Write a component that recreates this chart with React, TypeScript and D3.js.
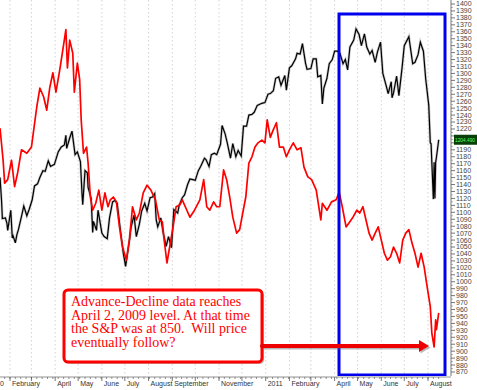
import React from "react";
import * as d3 from "d3";

// S&P 500 closes (black)
const spData: [string, number][] = [
  ["2010-01-19", 1150], ["2010-01-21", 1116], ["2010-01-22", 1091], ["2010-01-26", 1092], ["2010-01-28", 1084],
  ["2010-01-29", 1074], ["2010-02-02", 1103], ["2010-02-04", 1063], ["2010-02-05", 1066], ["2010-02-08", 1056],
  ["2010-02-10", 1068], ["2010-02-12", 1075], ["2010-02-16", 1094], ["2010-02-19", 1109], ["2010-02-23", 1095],
  ["2010-02-26", 1104], ["2010-03-02", 1118], ["2010-03-05", 1138], ["2010-03-09", 1141], ["2010-03-12", 1150],
  ["2010-03-16", 1160], ["2010-03-19", 1159], ["2010-03-23", 1174], ["2010-03-26", 1166], ["2010-03-31", 1169],
  ["2010-04-05", 1187], ["2010-04-09", 1194], ["2010-04-13", 1197], ["2010-04-15", 1211], ["2010-04-16", 1192],
  ["2010-04-20", 1207], ["2010-04-23", 1217], ["2010-04-27", 1183], ["2010-04-30", 1187], ["2010-05-04", 1173],
  ["2010-05-06", 1128], ["2010-05-07", 1111], ["2010-05-10", 1160], ["2010-05-13", 1157], ["2010-05-14", 1136],
  ["2010-05-18", 1120], ["2010-05-20", 1071], ["2010-05-21", 1087], ["2010-05-25", 1074], ["2010-05-27", 1103],
  ["2010-06-01", 1070], ["2010-06-04", 1065], ["2010-06-08", 1062], ["2010-06-11", 1092], ["2010-06-15", 1115],
  ["2010-06-18", 1117], ["2010-06-21", 1113], ["2010-06-25", 1076], ["2010-06-29", 1041], ["2010-07-02", 1022],
  ["2010-07-07", 1060], ["2010-07-09", 1078], ["2010-07-13", 1096], ["2010-07-16", 1065], ["2010-07-20", 1083],
  ["2010-07-23", 1102], ["2010-07-27", 1113], ["2010-07-30", 1102], ["2010-08-03", 1121], ["2010-08-06", 1122],
  ["2010-08-09", 1127], ["2010-08-11", 1089], ["2010-08-13", 1079], ["2010-08-17", 1092], ["2010-08-20", 1071],
  ["2010-08-24", 1051], ["2010-08-27", 1065], ["2010-08-31", 1049], ["2010-09-03", 1104], ["2010-09-08", 1099],
  ["2010-09-10", 1110], ["2010-09-14", 1121], ["2010-09-17", 1125], ["2010-09-21", 1140], ["2010-09-24", 1148],
  ["2010-09-28", 1147], ["2010-10-01", 1146], ["2010-10-05", 1160], ["2010-10-08", 1166], ["2010-10-13", 1178],
  ["2010-10-15", 1176], ["2010-10-19", 1166], ["2010-10-22", 1183], ["2010-10-26", 1185], ["2010-10-29", 1183],
  ["2010-11-03", 1198], ["2010-11-05", 1225], ["2010-11-09", 1213], ["2010-11-12", 1199], ["2010-11-16", 1178],
  ["2010-11-19", 1199], ["2010-11-23", 1180], ["2010-11-26", 1189], ["2010-11-30", 1181], ["2010-12-03", 1224],
  ["2010-12-07", 1224], ["2010-12-10", 1240], ["2010-12-14", 1241], ["2010-12-17", 1244], ["2010-12-21", 1254],
  ["2010-12-27", 1257], ["2010-12-31", 1258], ["2011-01-04", 1270], ["2011-01-07", 1271], ["2011-01-11", 1275],
  ["2011-01-14", 1293], ["2011-01-18", 1295], ["2011-01-21", 1283], ["2011-01-26", 1297], ["2011-01-28", 1276],
  ["2011-02-01", 1308], ["2011-02-04", 1311], ["2011-02-09", 1321], ["2011-02-11", 1329], ["2011-02-15", 1328],
  ["2011-02-18", 1343], ["2011-02-22", 1315], ["2011-02-24", 1306], ["2011-03-01", 1307], ["2011-03-04", 1321],
  ["2011-03-08", 1321], ["2011-03-10", 1295], ["2011-03-14", 1297], ["2011-03-16", 1256], ["2011-03-18", 1279],
  ["2011-03-22", 1293], ["2011-03-25", 1314], ["2011-03-29", 1320], ["2011-04-01", 1332], ["2011-04-05", 1332],
  ["2011-04-08", 1329], ["2011-04-12", 1314], ["2011-04-15", 1320], ["2011-04-18", 1305], ["2011-04-21", 1338],
  ["2011-04-26", 1348], ["2011-04-29", 1364], ["2011-05-03", 1356], ["2011-05-06", 1340], ["2011-05-10", 1357],
  ["2011-05-13", 1338], ["2011-05-17", 1328], ["2011-05-20", 1333], ["2011-05-24", 1316], ["2011-05-27", 1331],
  ["2011-05-31", 1345], ["2011-06-03", 1300], ["2011-06-07", 1284], ["2011-06-10", 1271], ["2011-06-14", 1288],
  ["2011-06-15", 1265], ["2011-06-17", 1272], ["2011-06-21", 1296], ["2011-06-24", 1268], ["2011-06-28", 1307],
  ["2011-07-01", 1340], ["2011-07-07", 1353], ["2011-07-12", 1314], ["2011-07-15", 1316], ["2011-07-19", 1327],
  ["2011-07-22", 1345], ["2011-07-26", 1332], ["2011-07-29", 1292], ["2011-08-02", 1254], ["2011-08-04", 1200],
  ["2011-08-05", 1199], ["2011-08-08", 1119], ["2011-08-09", 1172], ["2011-08-10", 1120], ["2011-08-11", 1172],
  ["2011-08-12", 1179], ["2011-08-15", 1204.49],
];

// Advance-Decline line (red), plotted on the price scale
const adData: [string, number][] = [
  ["2010-01-19", 1221], ["2010-01-23", 1175], ["2010-01-25", 1142], ["2010-01-29", 1147], ["2010-02-03", 1175],
  ["2010-02-07", 1137], ["2010-02-11", 1157], ["2010-02-16", 1190], ["2010-02-23", 1185], ["2010-03-01", 1194],
  ["2010-03-08", 1252], ["2010-03-12", 1279], ["2010-03-17", 1266], ["2010-03-21", 1247], ["2010-03-25", 1280],
  ["2010-03-29", 1301], ["2010-04-02", 1273], ["2010-04-07", 1305], ["2010-04-11", 1334], ["2010-04-15", 1363],
  ["2010-04-17", 1308], ["2010-04-20", 1348], ["2010-04-24", 1329], ["2010-04-26", 1273], ["2010-04-30", 1315],
  ["2010-05-03", 1291], ["2010-05-05", 1233], ["2010-05-08", 1185], ["2010-05-12", 1194], ["2010-05-14", 1171],
  ["2010-05-17", 1122], ["2010-05-20", 1103], ["2010-05-24", 1113], ["2010-05-28", 1132], ["2010-06-01", 1103],
  ["2010-06-05", 1128], ["2010-06-09", 1108], ["2010-06-12", 1118], ["2010-06-16", 1122], ["2010-06-20", 1115],
  ["2010-06-24", 1079], ["2010-06-28", 1050], ["2010-07-03", 1031], ["2010-07-07", 1060], ["2010-07-11", 1108],
  ["2010-07-16", 1089], ["2010-07-20", 1099], ["2010-07-25", 1128], ["2010-07-30", 1139], ["2010-08-04", 1132],
  ["2010-08-10", 1118], ["2010-08-15", 1089], ["2010-08-19", 1086], ["2010-08-21", 1064], ["2010-08-25", 1027],
  ["2010-08-29", 1053], ["2010-09-02", 1079], ["2010-09-06", 1108], ["2010-09-11", 1111], ["2010-09-14", 1118],
  ["2010-09-20", 1103], ["2010-09-24", 1093], ["2010-09-30", 1103], ["2010-10-07", 1118], ["2010-10-12", 1147],
  ["2010-10-16", 1108], ["2010-10-20", 1103], ["2010-10-25", 1115], ["2010-10-29", 1108], ["2010-11-02", 1108],
  ["2010-11-07", 1161], ["2010-11-11", 1147], ["2010-11-15", 1122], ["2010-11-19", 1093], ["2010-11-24", 1070],
  ["2010-11-28", 1075], ["2010-12-02", 1099], ["2010-12-06", 1122], ["2010-12-10", 1171], ["2010-12-14", 1180],
  ["2010-12-18", 1194], ["2010-12-22", 1200], ["2010-12-27", 1204], ["2010-12-31", 1200], ["2011-01-03", 1233],
  ["2011-01-07", 1208], ["2011-01-11", 1219], ["2011-01-15", 1229], ["2011-01-19", 1194], ["2011-01-24", 1194],
  ["2011-01-28", 1180], ["2011-02-01", 1190], ["2011-02-06", 1200], ["2011-02-11", 1190], ["2011-02-16", 1193],
  ["2011-02-20", 1165], ["2011-02-25", 1151], ["2011-03-02", 1147], ["2011-03-08", 1132], ["2011-03-14", 1089],
  ["2011-03-16", 1113], ["2011-03-22", 1103], ["2011-03-28", 1115], ["2011-04-03", 1118], ["2011-04-07", 1129],
  ["2011-04-11", 1108], ["2011-04-16", 1079], ["2011-04-20", 1085], ["2011-04-25", 1093], ["2011-04-30", 1103],
  ["2011-05-04", 1099], ["2011-05-08", 1108], ["2011-05-12", 1089], ["2011-05-16", 1070], ["2011-05-20", 1060],
  ["2011-05-24", 1070], ["2011-05-28", 1079], ["2011-06-01", 1060], ["2011-06-05", 1041], ["2011-06-09", 1031],
  ["2011-06-13", 1036], ["2011-06-17", 1050], ["2011-06-21", 1041], ["2011-06-25", 1027], ["2011-06-29", 1060],
  ["2011-07-03", 1070], ["2011-07-07", 1075], ["2011-07-11", 1056], ["2011-07-15", 1041], ["2011-07-19", 1021],
  ["2011-07-23", 1041], ["2011-07-27", 1021], ["2011-07-31", 992], ["2011-08-04", 964], ["2011-08-06", 926],
  ["2011-08-09", 906], ["2011-08-11", 945], ["2011-08-12", 931], ["2011-08-15", 955],
];

const monthLabels: [string, string][] = [
  ["2010-01-01", "2010"], ["2010-02-01", "February"], ["2010-04-01", "April"], ["2010-05-01", "May"],
  ["2010-06-01", "June"], ["2010-07-01", "July"], ["2010-08-01", "August"], ["2010-09-01", "September"],
  ["2010-11-01", "November"], ["2011-01-01", "2011"], ["2011-02-01", "February"], ["2011-04-01", "April"],
  ["2011-05-01", "May"], ["2011-06-01", "June"], ["2011-07-01", "July"], ["2011-08-01", "August"],
];

const noteLines = [
  "Advance-Decline data reaches",
  "April 2, 2009 level. At that time",
  "the S&P was at 850.  Will price",
  "eventually follow?",
];

const lastPrice = 1204.49;

const W = 477, H = 390;
const plotRight = 446, plotBottom = 376;

export default function App() {
  const parse = d3.timeParse("%Y-%m-%d");
  const x = d3.scaleTime()
    .domain([parse("2010-02-01")!, parse("2011-08-01")!])
    .range([10, 428]);
  const y = d3.scaleLinear().domain([870, 1400]).range([372, 4]);

  const line = d3.line<[string, number]>()
    .x(d => x(parse(d[0])!))
    .y(d => y(d[1]));

  const months = d3.timeMonth.range(parse("2010-01-01")!, parse("2011-09-01")!);
  const weeks = d3.timeMonday.range(parse("2010-01-04")!, parse("2011-08-20")!);
  const majorTicks = d3.range(870, 1401, 10);
  const minorTicks = d3.range(875, 1400, 10);

  const lastY = y(lastPrice);

  return (
    <svg width={W} height={H} style={{ position: "absolute", left: 0, top: 0, background: "#fff" }}
      fontFamily="'Liberation Sans', Arial, sans-serif">
      <defs>
        <clipPath id="plot"><rect x={0} y={0} width={plotRight} height={plotBottom} /></clipPath>
      </defs>

      {/* month gridlines */}
      <g clipPath="url(#plot)">
        {months.map((m, i) => (
          <line key={i} x1={x(m)} x2={x(m)} y1={0} y2={plotBottom} stroke="#c8c8c8" strokeWidth={0.8} strokeDasharray="1.5,2.5" />
        ))}
      </g>

      {/* series */}
      <g clipPath="url(#plot)">
        <path d={line(spData)!} fill="none" stroke="#777" strokeWidth={2.6} strokeOpacity={0.4} />
        <path d={line(spData)!} fill="none" stroke="#000" strokeWidth={1.2} />
        <path d={line(adData)!} fill="none" stroke="#ff0000" strokeWidth={1.7} strokeLinejoin="round" />
      </g>

      {/* blue highlight box */}
      <rect x={339} y={14} width={106} height={361} fill="none" stroke="#0000ee" strokeWidth={3} />

      {/* annotation */}
      <rect x={66} y={292} width={198} height={72} rx={4} fill="#999" opacity={0.6} />
      <rect x={64} y={290} width={198} height={72} rx={4} fill="#fff" stroke="#ff0000" strokeWidth={3} />
      <text fontFamily="'Liberation Serif', 'Times New Roman', serif" fontSize={14} fill="#ff0000">
        {noteLines.map((t, i) => (
          <tspan key={i} x={71} y={306 + i * 13.5} style={{ whiteSpace: "pre" }}>{t}</tspan>
        ))}
      </text>

      {/* arrow */}
      <g transform="translate(1.5,1.5)" opacity={0.45}>
        <line x1={262} x2={421} y1={346} y2={346} stroke="#666" strokeWidth={4} />
        <path d="M419,340 L429,346 L419,352 Z" fill="#666" />
      </g>
      <line x1={262} x2={421} y1={346} y2={346} stroke="#ee0000" strokeWidth={4} strokeLinecap="round" />
      <path d="M419,340 L429,346 L419,352 Z" fill="#ee0000" />

      {/* right axis */}
      <line x1={451} x2={451} y1={0} y2={plotBottom} stroke="#555" strokeWidth={0.8} />
      {majorTicks.map(v => (
        <g key={v}>
          <line x1={451} x2={455} y1={y(v)} y2={y(v)} stroke="#555" strokeWidth={0.8} />
          {Math.abs(y(v) - lastY) > 6 && (
            <text x={456} y={y(v)} dy="0.35em" fontSize={7} fill="#444">{v}</text>
          )}
        </g>
      ))}
      {minorTicks.map(v => (
        <line key={v} x1={451} x2={453} y1={y(v)} y2={y(v)} stroke="#777" strokeWidth={0.6} />
      ))}
      <rect x={454} y={lastY - 5} width={23} height={10} fill="#0a3f0a" />
      <text x={455} y={lastY} dy="0.35em" fontSize={6} fill="#5dff5d"
        textLength={20} lengthAdjust="spacingAndGlyphs">{lastPrice.toFixed(3)}</text>

      {/* bottom axis */}
      <rect x={0} y={plotBottom} width={W} height={H - plotBottom} fill="#fff" />
      <line x1={0} x2={451} y1={plotBottom + 1} y2={plotBottom + 1} stroke="#777" strokeWidth={0.8} />
      {weeks.map((w, i) => (
        <line key={i} x1={x(w)} x2={x(w)} y1={plotBottom + 1} y2={plotBottom + 3} stroke="#666" strokeWidth={0.7} />
      ))}
      {months.map((m, i) => (
        <line key={i} x1={x(m)} x2={x(m)} y1={plotBottom + 1} y2={plotBottom + 5} stroke="#555" strokeWidth={0.8} />
      ))}
      {monthLabels.map(([d, t]) => (
        <text key={d + t} x={x(parse(d)!) + 2} y={386} fontSize={7} fill="#333">{t}</text>
      ))}
    </svg>
  );
}
